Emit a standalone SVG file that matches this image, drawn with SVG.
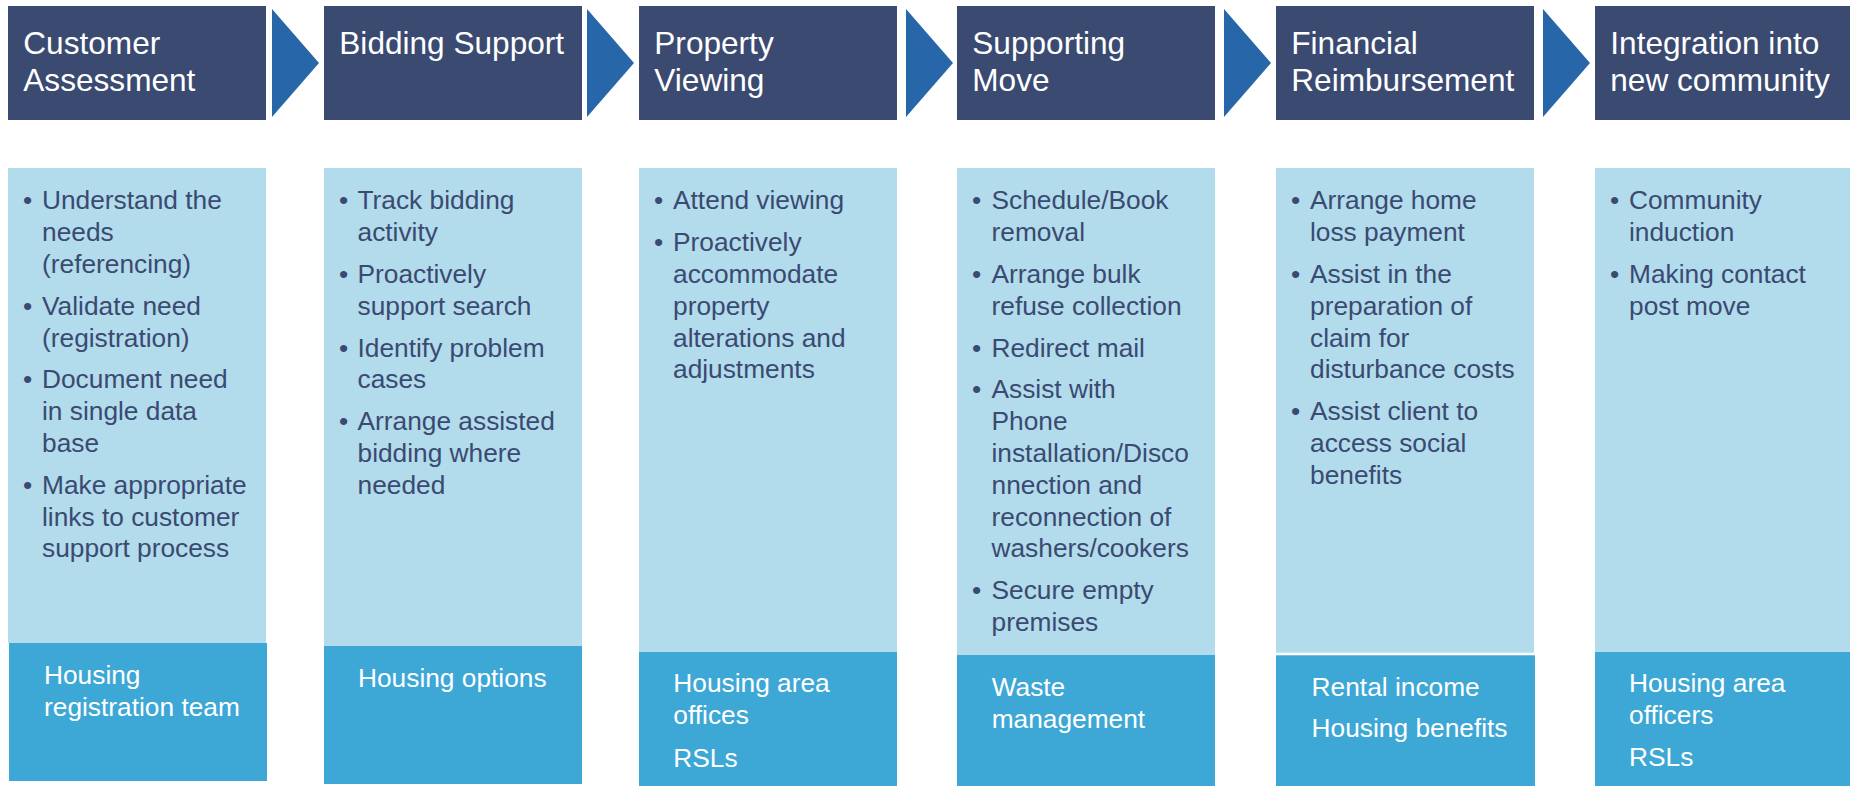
<svg xmlns="http://www.w3.org/2000/svg" width="1850" height="786" viewBox="0 0 1850 786">
<style>
.hdr{fill:#3A4A71}
.ht{font-family:"Liberation Sans",Arial,sans-serif;font-size:31.6px;fill:#FFFFFF}
.lb{fill:#B2DBEC}
.db{fill:#3DA7D6}
.bt{font-family:"Liberation Sans",Arial,sans-serif;font-size:26.3px;fill:#3A4A71}
.dt{font-family:"Liberation Sans",Arial,sans-serif;font-size:26.3px;fill:#FFFFFF}
.arr{fill:#2767A9}
</style>
<rect width="1850" height="786" fill="#FFFFFF"/>
<g id="connectors">
<polygon class="arr" points="272,9 319,63 272,117"/>
<polygon class="arr" points="587,9 634,63 587,117"/>
<polygon class="arr" points="906,9 953,63 906,117"/>
<polygon class="arr" points="1224,9 1271,63 1224,117"/>
<polygon class="arr" points="1543,9 1590,63 1543,117"/>
</g>
<g id="customer-assessment">
<rect class="hdr" x="8" y="6" width="258" height="114"/>
<text class="ht"><tspan x="23.3" y="54">Customer</tspan><tspan x="23.3" y="91">Assessment</tspan></text>
<rect class="lb" x="8" y="168" width="258" height="475"/>
<text class="bt"><tspan x="23" y="209.3">•</tspan><tspan x="42" y="209.3">Understand the</tspan><tspan x="42" y="241.1">needs</tspan><tspan x="42" y="272.9">(referencing)</tspan><tspan x="23" y="314.7">•</tspan><tspan x="42" y="314.7">Validate need</tspan><tspan x="42" y="346.5">(registration)</tspan><tspan x="23" y="388.3">•</tspan><tspan x="42" y="388.3">Document need</tspan><tspan x="42" y="420.1">in single data</tspan><tspan x="42" y="451.9">base</tspan><tspan x="23" y="493.7">•</tspan><tspan x="42" y="493.7">Make appropriate</tspan><tspan x="42" y="525.5">links to customer</tspan><tspan x="42" y="557.3">support process</tspan></text>
<rect class="db" x="9" y="643" width="258" height="138"/>
<text class="dt"><tspan x="44" y="684">Housing</tspan><tspan x="44" y="716">registration team</tspan></text>
</g>
<g id="bidding-support">
<rect class="hdr" x="324" y="6" width="258" height="114"/>
<text class="ht"><tspan x="339.3" y="54">Bidding Support</tspan></text>
<rect class="lb" x="324" y="168" width="258" height="478"/>
<text class="bt"><tspan x="339" y="209.3">•</tspan><tspan x="357.5" y="209.3">Track bidding</tspan><tspan x="357.5" y="241.1">activity</tspan><tspan x="339" y="282.9">•</tspan><tspan x="357.5" y="282.9">Proactively</tspan><tspan x="357.5" y="314.7">support search</tspan><tspan x="339" y="356.5">•</tspan><tspan x="357.5" y="356.5">Identify problem</tspan><tspan x="357.5" y="388.3">cases</tspan><tspan x="339" y="430.1">•</tspan><tspan x="357.5" y="430.1">Arrange assisted</tspan><tspan x="357.5" y="461.9">bidding where</tspan><tspan x="357.5" y="493.7">needed</tspan></text>
<rect class="db" x="324" y="646" width="258" height="138"/>
<text class="dt"><tspan x="358" y="686.7">Housing options</tspan></text>
</g>
<g id="property-viewing">
<rect class="hdr" x="639" y="6" width="258" height="114"/>
<text class="ht"><tspan x="654.3" y="54">Property</tspan><tspan x="654.3" y="91">Viewing</tspan></text>
<rect class="lb" x="639" y="168" width="258" height="484"/>
<text class="bt"><tspan x="654" y="209.3">•</tspan><tspan x="673" y="209.3">Attend viewing</tspan><tspan x="654" y="251.1">•</tspan><tspan x="673" y="251.1">Proactively</tspan><tspan x="673" y="282.9">accommodate</tspan><tspan x="673" y="314.7">property</tspan><tspan x="673" y="346.5">alterations and</tspan><tspan x="673" y="378.3">adjustments</tspan></text>
<rect class="db" x="639" y="652" width="258" height="134"/>
<text class="dt"><tspan x="673.3" y="692.3">Housing area</tspan><tspan x="673.3" y="724.3">offices</tspan><tspan x="673.3" y="766.5">RSLs</tspan></text>
</g>
<g id="supporting-move">
<rect class="hdr" x="957" y="6" width="258" height="114"/>
<text class="ht"><tspan x="972.3" y="54">Supporting</tspan><tspan x="972.3" y="91">Move</tspan></text>
<rect class="lb" x="957" y="168" width="258" height="487"/>
<text class="bt"><tspan x="972" y="209.3">•</tspan><tspan x="991.5" y="209.3">Schedule/Book</tspan><tspan x="991.5" y="241.1">removal</tspan><tspan x="972" y="282.9">•</tspan><tspan x="991.5" y="282.9">Arrange bulk</tspan><tspan x="991.5" y="314.7">refuse collection</tspan><tspan x="972" y="356.5">•</tspan><tspan x="991.5" y="356.5">Redirect mail</tspan><tspan x="972" y="398.3">•</tspan><tspan x="991.5" y="398.3">Assist with</tspan><tspan x="991.5" y="430.1">Phone</tspan><tspan x="991.5" y="461.9">installation/Disco</tspan><tspan x="991.5" y="493.7">nnection and</tspan><tspan x="991.5" y="525.5">reconnection of</tspan><tspan x="991.5" y="557.3">washers/cookers</tspan><tspan x="972" y="599.1">•</tspan><tspan x="991.5" y="599.1">Secure empty</tspan><tspan x="991.5" y="630.9">premises</tspan></text>
<rect class="db" x="957" y="655" width="258" height="131"/>
<text class="dt"><tspan x="991.7" y="696">Waste</tspan><tspan x="991.7" y="727.8">management</tspan></text>
</g>
<g id="financial-reimbursement">
<rect class="hdr" x="1276" y="6" width="258" height="114"/>
<text class="ht"><tspan x="1291.3" y="54">Financial</tspan><tspan x="1291.3" y="91">Reimbursement</tspan></text>
<rect class="lb" x="1276" y="168" width="258" height="484.7"/>
<text class="bt"><tspan x="1291" y="209.3">•</tspan><tspan x="1310" y="209.3">Arrange home</tspan><tspan x="1310" y="241.1">loss payment</tspan><tspan x="1291" y="282.9">•</tspan><tspan x="1310" y="282.9">Assist in the</tspan><tspan x="1310" y="314.7">preparation of</tspan><tspan x="1310" y="346.5">claim for</tspan><tspan x="1310" y="378.3">disturbance costs</tspan><tspan x="1291" y="420.1">•</tspan><tspan x="1310" y="420.1">Assist client to</tspan><tspan x="1310" y="451.9">access social</tspan><tspan x="1310" y="483.7">benefits</tspan></text>
<rect class="db" x="1276" y="655.3" width="259" height="130.7"/>
<text class="dt"><tspan x="1311.6" y="696">Rental income</tspan><tspan x="1311.6" y="737">Housing benefits</tspan></text>
</g>
<g id="integration-community">
<rect class="hdr" x="1595" y="6" width="258" height="114"/>
<text class="ht"><tspan x="1610.3" y="54">Integration into</tspan><tspan x="1610.3" y="91">new community</tspan></text>
<rect class="lb" x="1595" y="168" width="258" height="484"/>
<text class="bt"><tspan x="1610" y="209.3">•</tspan><tspan x="1629" y="209.3">Community</tspan><tspan x="1629" y="241.1">induction</tspan><tspan x="1610" y="282.9">•</tspan><tspan x="1629" y="282.9">Making contact</tspan><tspan x="1629" y="314.7">post move</tspan></text>
<rect class="db" x="1595" y="652" width="258" height="134"/>
<text class="dt"><tspan x="1629" y="692.3">Housing area</tspan><tspan x="1629" y="724.3">officers</tspan><tspan x="1629" y="766">RSLs</tspan></text>
</g>
</svg>
